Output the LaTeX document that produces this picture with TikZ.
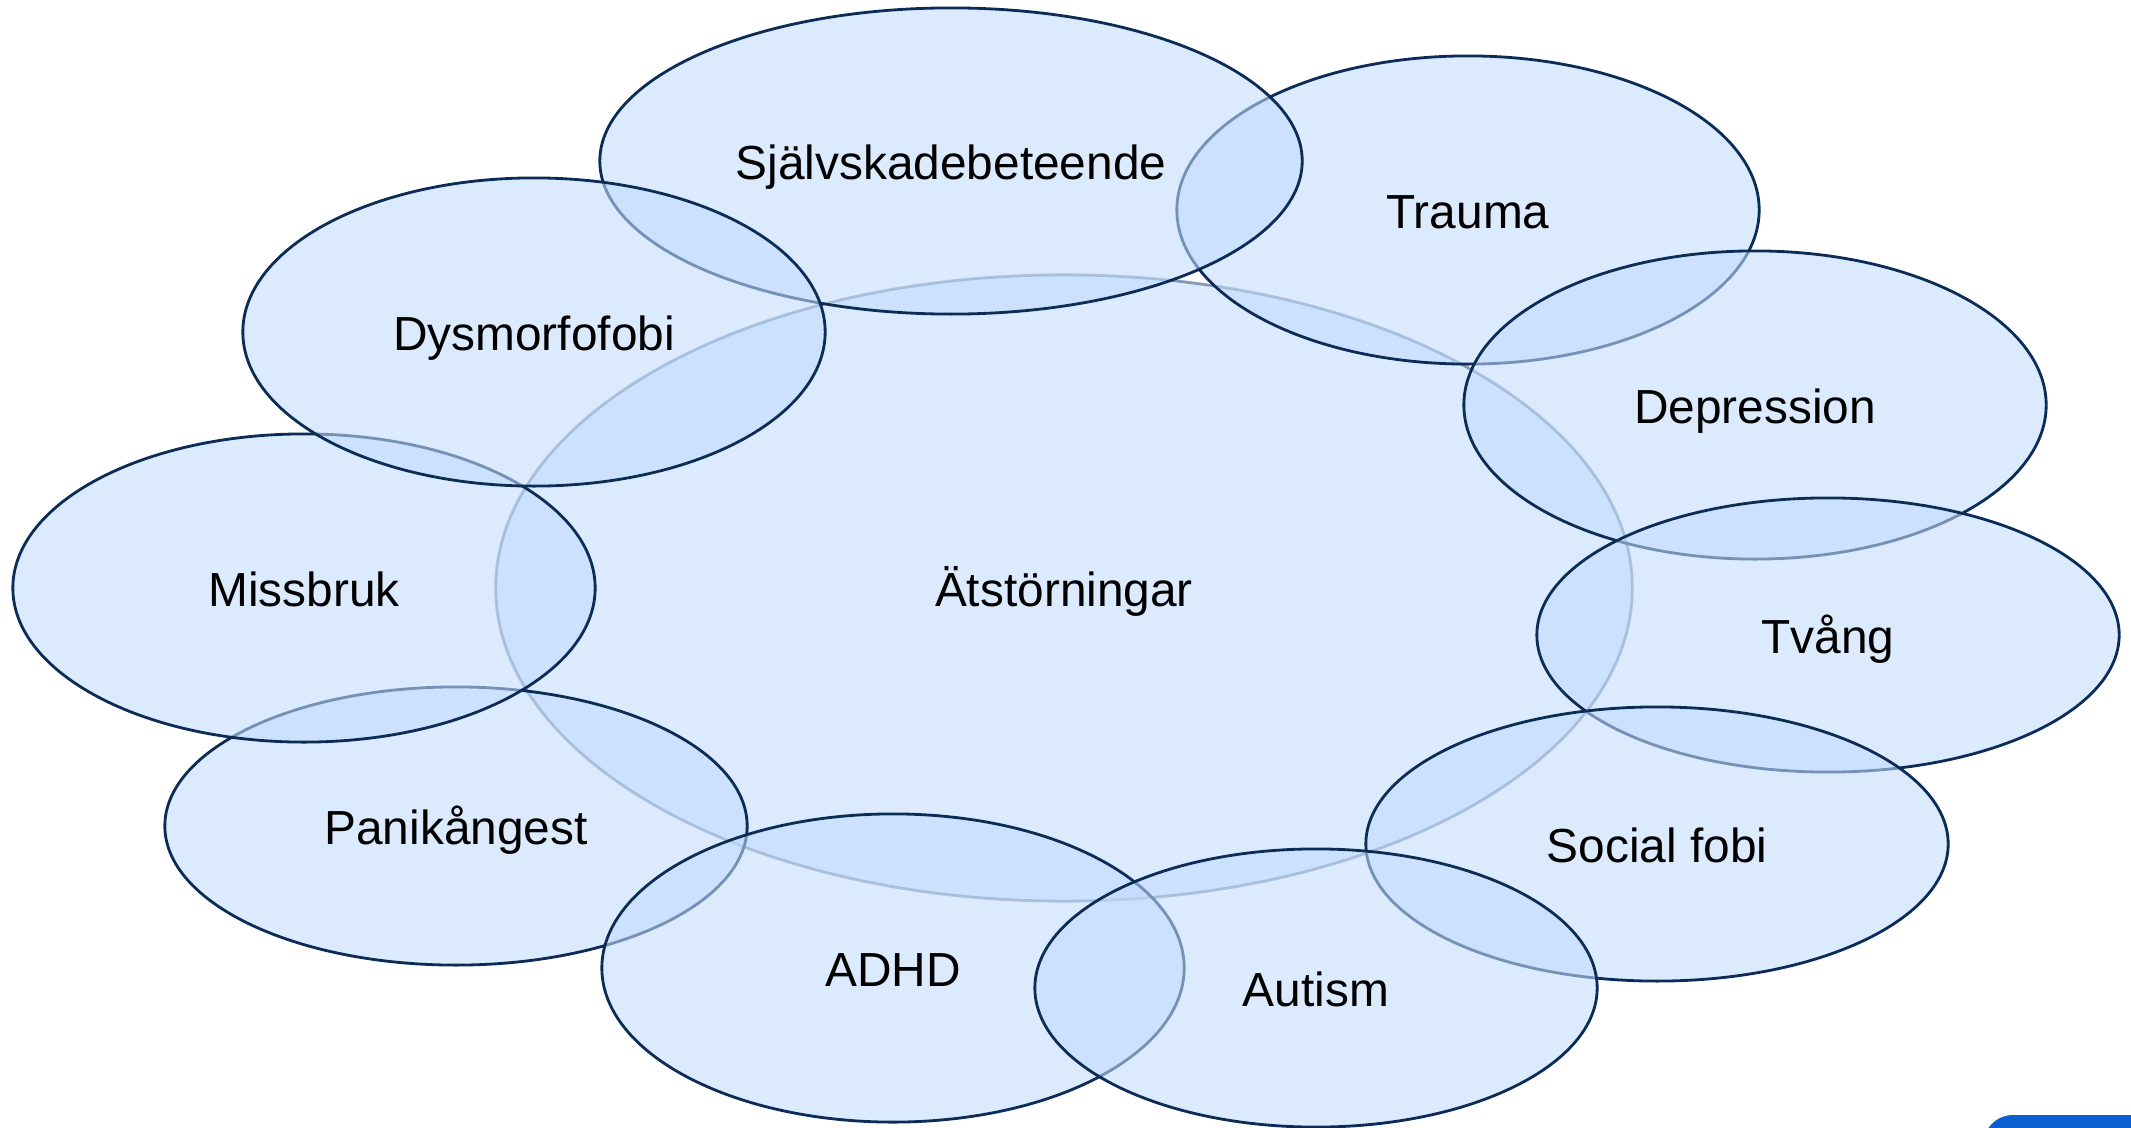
\documentclass[tikz,border=0pt]{standalone}
\usepackage{fontspec}
\setmainfont{Liberation Sans}
\usetikzlibrary{shapes.geometric}
\definecolor{bubblefill}{RGB}{193,219,252}
\definecolor{bubbleline}{RGB}{12,44,88}
\definecolor{cornerblue}{RGB}{10,96,208}
\tikzset{
	bubble/.style={ellipse, draw=bubbleline, line width=0.8pt,
		fill=bubblefill, fill opacity=0.58, text opacity=1,
		inner sep=0pt, outer sep=0pt, text=black,
		text height=12.3pt, text depth=1.7pt,
		font=\fontsize{13.6}{16}\selectfont},
	hub/.style={bubble, draw opacity=0.45},
	ext/.style 2 args={minimum width=#1, minimum height=#2},
	big/.style={ext={5.82cm}{3.08cm}},
	flat/.style={ext={5.82cm}{2.74cm}}
}

\begin{document}
\begin{tikzpicture}[x=0.01cm, y=-0.01cm]
	\useasboundingbox (0,0) rectangle (2131,1127);
	% centre first, the rest go round it
	\node[hub, ext={11.36cm}{6.26cm}] (eat) at (1064,588) {Ätstörningar};
	\node[bubble, big] (trauma) at (1468,210) {Trauma};
	\node[bubble, ext={7.02cm}{3.06cm}] (selfharm) at (951,161) {Självskadebeteende};
	\node[bubble, big] (depr) at (1755,405) {Depression};
	\node[bubble, flat] (ocd) at (1828,635) {Tvång};
	\node[bubble, flat] (social) at (1657,844) {Social fobi};
	\node[bubble, ext={5.82cm}{2.78cm}] (panic) at (456,826) {Panikångest};
	\node[bubble, big] (abuse) at (304,588) {Missbruk};
	\node[bubble, big] (dysm) at (534,332) {Dysmorfofobi};
	\node[bubble, big] (adhd) at (893,968) {ADHD};
	\node[bubble, ext={5.62cm}{2.78cm}] (autism) at (1316,988) {Autism};
	% cut-off button in the corner
	\begin{scope}
		\clip (0,0) rectangle (2131,1127);
		\fill[cornerblue, rounded corners=0.3cm] (1983,1115) rectangle (2200,1200);
	\end{scope}
\end{tikzpicture}
\end{document}
